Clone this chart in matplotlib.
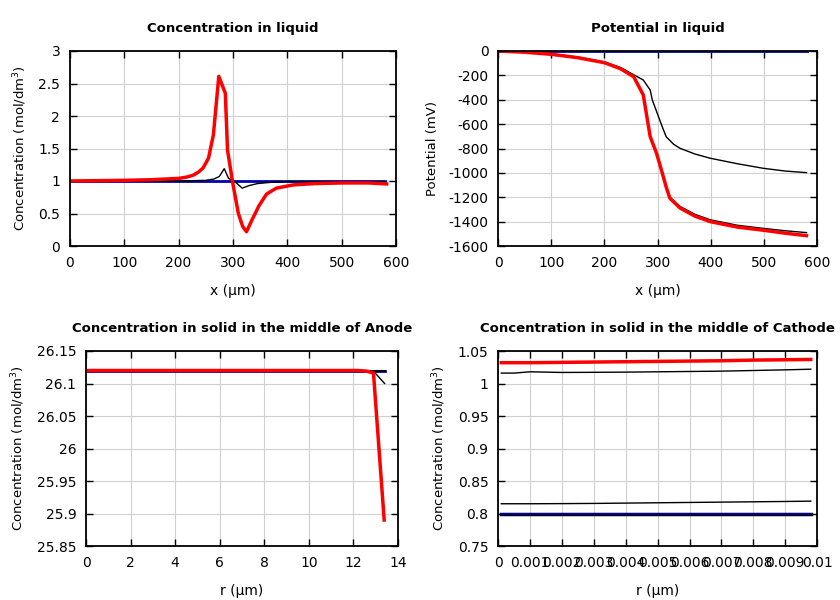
import matplotlib
matplotlib.use("Agg")
import matplotlib.pyplot as plt
from matplotlib.ticker import FormatStrFormatter, MultipleLocator

plt.rcParams['font.family'] = 'DejaVu Sans'
plt.rcParams['axes.unicode_minus'] = False

# concentration in liquid
cx_blue = [0, 580]
cy_blue = [1.0, 1.0]
cx_black = [0, 100, 200, 250, 265, 275, 284, 292, 305, 317, 330, 345, 370, 400, 450, 500, 580]
cy_black = [1.0, 1.0, 1.0, 1.01, 1.03, 1.07, 1.19, 1.04, 0.98, 0.89, 0.93, 0.96, 0.98, 0.99, 0.99, 0.99, 0.99]
cx_red = [0, 100, 150, 200, 215, 227, 237, 245, 255, 264, 270, 274, 286, 290, 299, 310, 318, 325, 335, 348, 362, 380, 411, 450, 500, 550, 583]
cy_red = [1.0, 1.01, 1.02, 1.04, 1.06, 1.09, 1.14, 1.2, 1.35, 1.71, 2.25, 2.61, 2.35, 1.48, 1.0, 0.5, 0.3, 0.22, 0.4, 0.62, 0.8, 0.89, 0.94, 0.96, 0.97, 0.97, 0.955]

# potential in liquid
px_blue = [0, 580]
py_blue = [0, 0]
px_black1 = [0, 50, 100, 150, 200, 230, 255, 273, 286, 290, 300, 311, 316, 330, 342, 370, 399, 450, 498, 540, 580]
py_black1 = [0, -8, -25, -50, -90, -135, -195, -238, -320, -402, -520, -648, -703, -765, -798, -845, -880, -925, -962, -985, -998]
px_black2 = [0, 50, 100, 150, 200, 230, 255, 273, 286, 298, 308, 316, 323, 342, 370, 399, 450, 498, 540, 580]
py_black2 = [0, -10, -27, -55, -96, -145, -211, -361, -703, -840, -990, -1110, -1200, -1275, -1340, -1385, -1430, -1455, -1475, -1490]
px_red = [0, 50, 100, 150, 200, 230, 255, 273, 286, 298, 308, 316, 323, 342, 370, 399, 450, 498, 540, 580]
py_red = [0, -10, -27, -55, -96, -145, -211, -361, -703, -840, -990, -1115, -1208, -1288, -1355, -1400, -1445, -1470, -1495, -1515]

# solid, anode
ax_r = [0.1, 2, 4, 6, 8, 10, 11.5, 12.9, 13.4]
ax_blue = [26.12, 26.12, 26.12, 26.12, 26.12, 26.12, 26.12, 26.12, 26.12]
ax_black1 = [26.12, 26.12, 26.12, 26.12, 26.12, 26.12, 26.12, 26.12, 26.12]
ax_black2 = [26.12, 26.12, 26.12, 26.12, 26.12, 26.12, 26.12, 26.119, 26.10]
ar_red = [0.1, 2, 4, 6, 8, 10, 11.5, 12.2, 12.6, 12.9, 13.38]
ay_red = [26.12, 26.12, 26.12, 26.12, 26.12, 26.12, 26.12, 26.12, 26.119, 26.116, 25.89]

# solid, cathode
kr = [0.0001, 0.0005, 0.001, 0.002, 0.003, 0.004, 0.005, 0.006, 0.007, 0.008, 0.009, 0.0098]
ky_blue = [0.799] * 12
ky_black_lo = [0.815, 0.815, 0.815, 0.8152, 0.8155, 0.816, 0.8165, 0.817, 0.8175, 0.818, 0.8185, 0.819]
ky_black_hi = [1.016, 1.016, 1.018, 1.017, 1.0172, 1.0175, 1.018, 1.0185, 1.019, 1.020, 1.021, 1.022]
ky_red = [1.032, 1.032, 1.032, 1.0325, 1.033, 1.0335, 1.034, 1.0345, 1.035, 1.036, 1.0365, 1.037]

BLUE = '#0000b0'


def style(ax, title, xlab, ylab):
    ax.set_title(title, fontsize=9.5, fontweight='bold', pad=14)
    ax.set_xlabel(xlab, fontsize=10, labelpad=10)
    ax.set_ylabel(ylab, fontsize=9.5, labelpad=7)
    ax.grid(True, color='#d0d0d0', lw=0.8)
    ax.set_axisbelow(True)
    ax.tick_params(direction='in', top=True, right=True, length=5, width=1, labelsize=10, pad=7)
    for s in ax.spines.values():
        s.set_linewidth(1.3)
    ax.xaxis.set_major_formatter(FormatStrFormatter('%g'))
    ax.yaxis.set_major_formatter(FormatStrFormatter('%g'))


fig = plt.figure(figsize=(8.4, 6), dpi=100)
a1 = fig.add_axes([0.0833, 0.59, 0.388, 0.325])
a2 = fig.add_axes([0.593, 0.59, 0.3798, 0.325])
a3 = fig.add_axes([0.1024, 0.09, 0.3714, 0.325])
a4 = fig.add_axes([0.593, 0.09, 0.3798, 0.325])

a1.plot(cx_blue, cy_blue, color=BLUE, lw=2)
a1.plot(cx_black, cy_black, color='black', lw=1)
a1.plot(cx_red, cy_red, color='red', lw=2.5)
a1.set_xlim(0, 600)
a1.set_ylim(0, 3)
a1.yaxis.set_major_locator(MultipleLocator(0.5))
style(a1, 'Concentration in liquid', 'x (\u03bcm)', 'Concentration (mol/dm$^3$)')

a2.plot(px_blue, py_blue, color=BLUE, lw=2)
a2.plot(px_black1, py_black1, color='black', lw=1)
a2.plot(px_black2, py_black2, color='black', lw=1)
a2.plot(px_red, py_red, color='red', lw=2.5)
a2.set_xlim(0, 600)
a2.set_ylim(-1600, 0)
a2.yaxis.set_major_locator(MultipleLocator(200))
style(a2, 'Potential in liquid', 'x (\u03bcm)', 'Potential (mV)')

a3.plot(ax_r, ax_blue, color=BLUE, lw=2)
a3.plot(ax_r, ax_black1, color='black', lw=1.5)
a3.plot(ax_r, ax_black2, color='black', lw=1)
a3.plot(ar_red, ay_red, color='red', lw=2.5)
a3.set_xlim(0, 14)
a3.set_ylim(25.85, 26.15)
a3.xaxis.set_major_locator(MultipleLocator(2))
a3.yaxis.set_major_locator(MultipleLocator(0.05))
style(a3, 'Concentration in solid in the middle of Anode', 'r (\u03bcm)', 'Concentration (mol/dm$^3$)')

a4.plot(kr, ky_blue, color='black', lw=2.5)
a4.plot(kr, ky_blue, color=BLUE, lw=1.2)
a4.plot(kr, ky_black_lo, color='black', lw=1)
a4.plot(kr, ky_black_hi, color='black', lw=1)
a4.plot(kr, ky_red, color='red', lw=2.5)
a4.set_xlim(0, 0.01)
a4.set_ylim(0.75, 1.05)
a4.xaxis.set_major_locator(MultipleLocator(0.001))
a4.yaxis.set_major_locator(MultipleLocator(0.05))
style(a4, 'Concentration in solid in the middle of Cathode', 'r (\u03bcm)', 'Concentration (mol/dm$^3$)')

fig.savefig('out.png', dpi=100)
